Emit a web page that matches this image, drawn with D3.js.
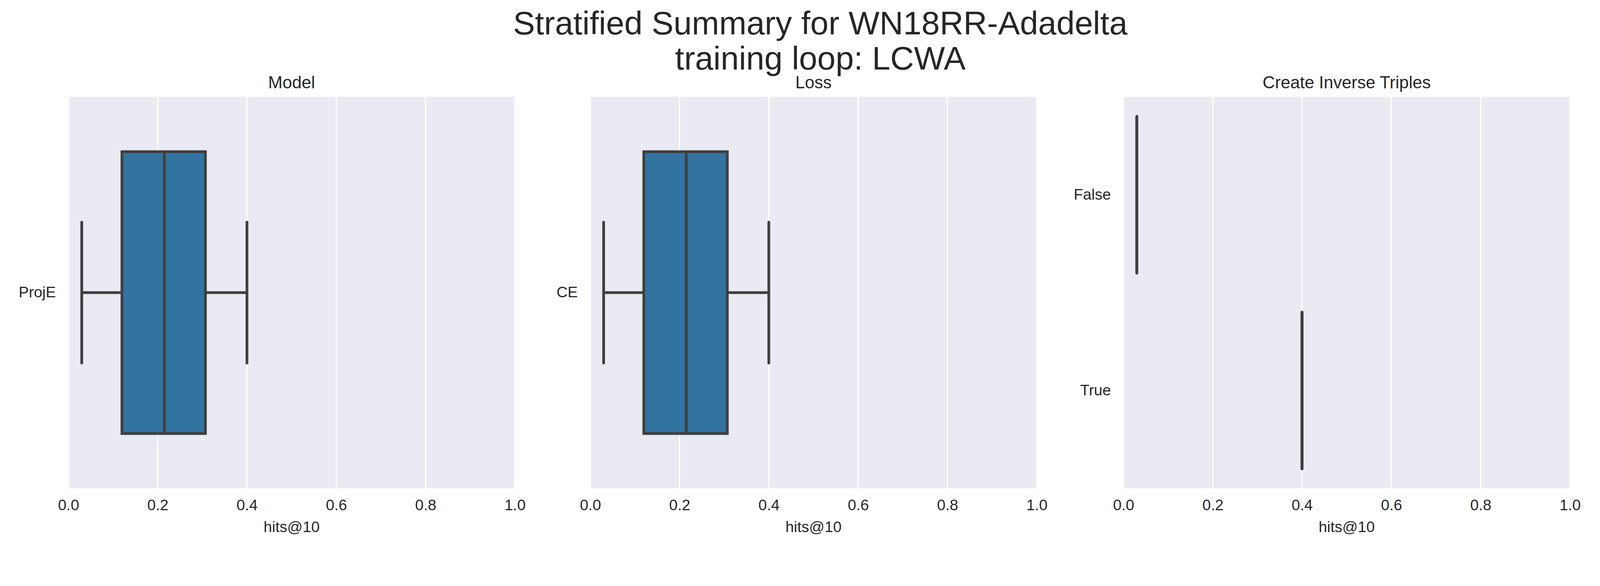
<!DOCTYPE html>
<html>
<head>
<meta charset="utf-8">
<script src="https://cdn.jsdelivr.net/npm/d3@7"></script>
<style>
  body { margin: 0; background: #fff; }
  text { font-family: Arial, "Liberation Sans", sans-serif; fill: #262626; }
</style>
</head>
<body>
<div id="chart"></div>
<script>
// data
const panelTitles = ['Model', 'Loss', 'Create Inverse Triples'];
const panelCategories = [['ProjE'], ['CE'], ['False', 'True']];
// [whiskerLow, q1, median, q3, whiskerHigh] per category
const panelStats = [
    [[0.03, 0.12, 0.215, 0.307, 0.40]],
    [[0.03, 0.12, 0.215, 0.307, 0.40]],
    [[0.03, 0.03, 0.03, 0.03, 0.03], [0.40, 0.40, 0.40, 0.40, 0.40]]
];
const xTicks = [0, 0.2, 0.4, 0.6, 0.8, 1.0];

const WIDTH = 4200, HEIGHT = 1500;
const PANEL_LEFTS = [175, 1511, 2876];
const PANEL_WIDTH = 1143;
const TOP = 248, BOTTOM = 1250;
const LINE = '#3f3f3f';

const svg = d3.select('#chart').append('svg')
    .attr('width', WIDTH).attr('height', HEIGHT);

svg.append('text').attr('x', WIDTH / 2).attr('y', 88)
    .attr('text-anchor', 'middle').attr('font-size', 84)
    .text('Stratified Summary for WN18RR-Adadelta');
svg.append('text').attr('x', WIDTH / 2).attr('y', 178)
    .attr('text-anchor', 'middle').attr('font-size', 84)
    .text('training loop: LCWA');

panelTitles.forEach((title, i) => {
    const g = svg.append('g').attr('transform', 'translate(' + PANEL_LEFTS[i] + ',0)');
    const x = d3.scaleLinear().domain([0, 1]).range([0, PANEL_WIDTH]);
    const y = d3.scaleBand().domain(panelCategories[i]).range([TOP, BOTTOM]);
    const boxFrac = panelCategories[i].length === 1 ? 0.72 : 0.8;

    g.append('rect').attr('x', 0).attr('y', TOP)
        .attr('width', PANEL_WIDTH).attr('height', BOTTOM - TOP).attr('fill', '#eaeaf2');

    g.selectAll('.grid').data(xTicks).enter().append('line')
        .attr('x1', d => x(d)).attr('x2', d => x(d))
        .attr('y1', TOP).attr('y2', BOTTOM)
        .attr('stroke', '#fff').attr('stroke-width', 3);

    g.append('text').attr('x', PANEL_WIDTH / 2).attr('y', TOP - 22)
        .attr('text-anchor', 'middle').attr('font-size', 44).text(title);

    // x axis
    const xAxis = g.append('g').attr('transform', 'translate(0,' + BOTTOM + ')')
        .call(d3.axisBottom(x).tickValues(xTicks).tickFormat(d3.format('.1f')).tickSize(0).tickPadding(28));
    xAxis.select('.domain').remove();
    xAxis.selectAll('text').attr('font-size', 39).attr('fill', '#262626');
    g.append('text').attr('x', PANEL_WIDTH / 2).attr('y', BOTTOM + 112)
        .attr('text-anchor', 'middle').attr('font-size', 39).text('hits@10');

    // y axis
    const yAxis = g.append('g')
        .call(d3.axisLeft(y).tickSize(0).tickPadding(32));
    yAxis.select('.domain').remove();
    yAxis.selectAll('text').attr('font-size', 39).attr('fill', '#262626');

    panelCategories[i].forEach((cat, j) => {
        const s = panelStats[i][j];
        const cy = y(cat) + y.bandwidth() / 2;
        const bh = y.bandwidth() * boxFrac;
        const capH = bh / 2;
        const flat = s[0] === s[4];
        // whiskers
        g.append('line').attr('x1', x(s[0])).attr('x2', x(s[1]))
            .attr('y1', cy).attr('y2', cy).attr('stroke', LINE).attr('stroke-width', 7);
        g.append('line').attr('x1', x(s[3])).attr('x2', x(s[4]))
            .attr('y1', cy).attr('y2', cy).attr('stroke', LINE).attr('stroke-width', 7);
        [s[0], s[4]].forEach(v => {
            g.append('line').attr('x1', x(v)).attr('x2', x(v))
                .attr('y1', cy - (flat ? bh : capH) / 2)
                .attr('y2', cy + (flat ? bh : capH) / 2)
                .attr('stroke', LINE).attr('stroke-width', 7).attr('stroke-linecap', 'round');
        });
        // box
        g.append('rect').attr('x', x(s[1])).attr('y', cy - bh / 2)
            .attr('width', x(s[3]) - x(s[1])).attr('height', bh)
            .attr('fill', '#3274a1').attr('stroke', LINE).attr('stroke-width', 7);
        g.append('line').attr('x1', x(s[2])).attr('x2', x(s[2]))
            .attr('y1', cy - bh / 2).attr('y2', cy + bh / 2)
            .attr('stroke', LINE).attr('stroke-width', 7);
    });
});
</script>
</body>
</html>
